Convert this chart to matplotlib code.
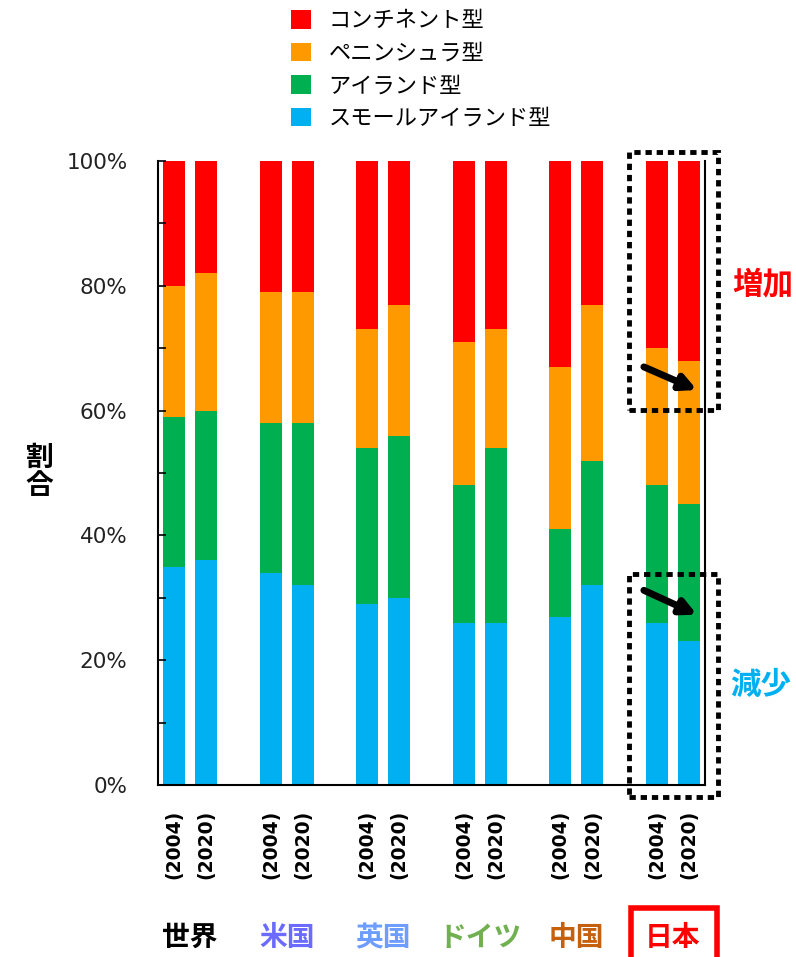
import matplotlib.pyplot as plt
import matplotlib.patches as patches
from matplotlib.ticker import MultipleLocator, PercentFormatter
import matplotlib.transforms as mtransforms

plt.rcParams['font.family'] = ['DejaVu Sans', 'Noto Sans CJK JP']

# share of each type (%), two years per country
countries = ["世界", "米国", "英国", "ドイツ", "中国", "日本"]
country_colors = ["#000000", "#6b6bff", "#6d9eff", "#70b050", "#c5600e", "#ff0000"]
years = ["(2004)", "(2020)"]

small_island = [35, 36, 34, 32, 29, 30, 26, 26, 27, 32, 26, 23]
island = [24, 24, 24, 26, 25, 26, 22, 28, 14, 20, 22, 22]
peninsula = [21, 22, 21, 21, 19, 21, 23, 19, 26, 25, 22, 23]
continent = [20, 18, 21, 21, 27, 23, 29, 27, 33, 23, 30, 32]

series = [
    ("スモールアイランド型", small_island, "#00b0f0"),
    ("アイランド型", island, "#00b050"),
    ("ペニンシュラ型", peninsula, "#ff9900"),
    ("コンチネント型", continent, "#ff0000"),
]

fig = plt.figure(figsize=(7.96, 9.57), dpi=100)
ax = fig.add_axes([0.1985, 0.1797, 0.6872, 0.6521])

xpos = []
for g in range(len(countries)):
    xpos += [3 * g, 3 * g + 1]

bottom = [0] * len(xpos)
handles = {}
for name, vals, col in series:
    b = ax.bar(xpos, vals, width=0.68, bottom=bottom, color=col, linewidth=0)
    handles[name] = b
    bottom = [a + v for a, v in zip(bottom, vals)]

ax.set_xlim(-0.5, 16.5)
ax.set_ylim(0, 100)
ax.yaxis.set_major_locator(MultipleLocator(20))
ax.yaxis.set_minor_locator(MultipleLocator(10))
ax.yaxis.set_major_formatter(PercentFormatter(decimals=0))
ax.tick_params(axis='y', which='both', direction='in', length=6, width=1.2,
               labelsize=15.5, pad=22, labelcolor='#222222')
ax.set_xticks(xpos)
ax.set_xticklabels(years * len(countries), rotation=90, fontsize=13.5, fontweight='bold')
ax.tick_params(axis='x', length=0, pad=18)
ax.spines['top'].set_visible(False)
for s in ['left', 'right', 'bottom']:
    ax.spines[s].set_linewidth(1.5)

fig.text(0.05, 0.507, "割\n合", fontsize=20, fontweight='bold', ha='center', va='center',
         linespacing=1.0)

# country names under each pair
trans = mtransforms.blended_transform_factory(ax.transData, fig.transFigure)
for g, (c, col) in enumerate(zip(countries, country_colors)):
    ax.text(3 * g + 0.5, 0.0199, c, transform=trans, ha='center', va='center',
            fontsize=20, fontweight='bold', color=col)

# red frame around Japan
fig.patches.append(patches.Rectangle((0.793, -0.02), 0.108, 0.071, transform=fig.transFigure,
                                     fill=False, edgecolor='#ff0000', linewidth=4))

# dotted highlight boxes on Japan
for y0, y1 in [(60.1, 101.4), (-1.9, 33.8)]:
    ax.add_patch(patches.Rectangle((14.15, y0), 2.75, y1 - y0, fill=False, edgecolor='black',
                                   linewidth=3.5, linestyle=(0, (1.3, 1.0)), clip_on=False))

for y_start, y_end in [(67, 63.3), (31.2, 27.3)]:
    ax.annotate("", xy=(16.25, y_end), xytext=(14.6, y_start),
                arrowprops=dict(arrowstyle='-|>,head_length=0.9,head_width=0.45',
                                lw=5, color='black', shrinkA=0, shrinkB=0),
                annotation_clip=False)

fig.text(0.958, 0.703, "増加", fontsize=22, fontweight='bold', color='#ff0000',
         ha='center', va='center')
fig.text(0.955, 0.284, "減少", fontsize=22, fontweight='bold', color='#00b0f0',
         ha='center', va='center')

order = ["コンチネント型", "ペニンシュラ型", "アイランド型", "スモールアイランド型"]
fig.legend([handles[n] for n in order], order, loc='upper left',
           bbox_to_anchor=(0.34, 1.01), frameon=False, fontsize=16,
           handlelength=0.9, handleheight=0.9, handletextpad=0.8, labelspacing=0.52)

fig.savefig("out.png", dpi=100)
